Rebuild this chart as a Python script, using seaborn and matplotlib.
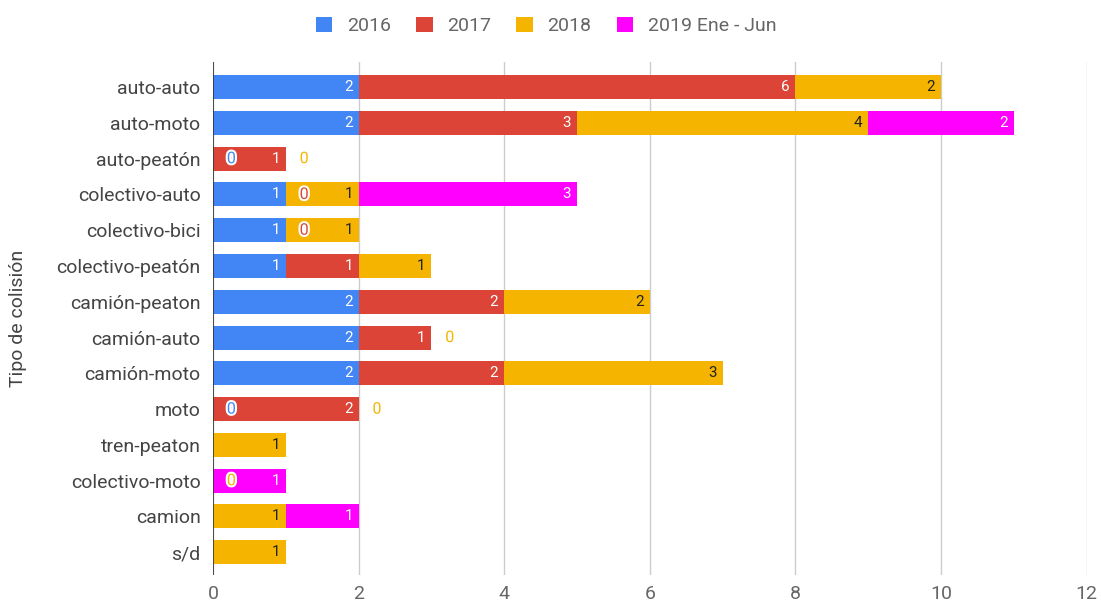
import numpy as np
import pandas as pd
import matplotlib
matplotlib.use("Agg")
import matplotlib.pyplot as plt
import matplotlib.patheffects as pe
from matplotlib.patches import Patch
import seaborn as sns

categorias = ["auto-auto", "auto-moto", "auto-peatón", "colectivo-auto", "colectivo-bici",
              "colectivo-peatón", "camión-peaton", "camión-auto", "camión-moto", "moto",
              "tren-peaton", "colectivo-moto", "camion", "s/d"]
nan = np.nan
y2016 = [2, 2, 0, 1, 1, 1, 2, 2, 2, 0, nan, nan, nan, nan]
y2017 = [6, 3, 1, 0, 0, 1, 2, 1, 2, 2, nan, nan, nan, nan]
y2018 = [2, 4, 0, 1, 1, 1, 2, 0, 3, 0, 1, 0, 1, 1]
y2019 = [nan, 2, nan, 3, nan, nan, nan, nan, nan, nan, nan, 1, 1, nan]

series = ["2016", "2017", "2018", "2019 Ene - Jun"]
colores = ["#4285F4", "#DB4437", "#F4B400", "#FF00FF"]
txt_col = ["white", "white", "#222222", "white"]

df = pd.DataFrame({"tipo": categorias, "2016": y2016, "2017": y2017,
                   "2018": y2018, "2019 Ene - Jun": y2019})
vals = df[series].fillna(0)
cum = vals.cumsum(axis=1)

plt.rcParams["font.family"] = ["Roboto", "DejaVu Sans"]
fig = plt.figure(figsize=(11.01, 6.08), dpi=100)
ax = fig.add_axes([0.1935, 0.054, 0.7935, 0.844])

# stacked bars: draw cumulative totals from the top layer down
for i in range(len(series) - 1, -1, -1):
    d = pd.DataFrame({"tipo": categorias, "v": cum[series[i]]})
    sns.barplot(data=d, x="v", y="tipo", color=colores[i], width=0.67,
                saturation=1, ax=ax, zorder=3, linewidth=0)

# labels
for i, s in enumerate(series):
    for j in range(len(categorias)):
        v = df[s].iloc[j]
        if np.isnan(v):
            continue
        end = cum[s].iloc[j]
        if v == 0:
            ax.text(end + 0.19, j, "0", color=colores[i], fontsize=11.5,
                    ha="left", va="center", zorder=5,
                    path_effects=[pe.withStroke(linewidth=3, foreground="white")])
        else:
            ax.text(end - 0.08, j, f"{int(v)}", color=txt_col[i], fontsize=11,
                    ha="right", va="center", zorder=5)

ax.set_xlim(0, 12)
ax.set_ylim(13.64, -0.7)
ax.set_xticks(range(0, 13, 2))
ax.grid(axis="x", color="#cccccc", linewidth=1, zorder=0)
ax.grid(axis="y", visible=False)
ax.axvline(0, color="#333333", linewidth=1.2, zorder=4)
for sp in ax.spines.values():
    sp.set_visible(False)
ax.tick_params(length=0)
ax.tick_params(axis="x", labelsize=14, colors="#666666", pad=7)
ax.tick_params(axis="y", labelsize=14, colors="#444444", pad=9)
ax.set_xlabel("")
ax.set_ylabel("Tipo de colisión", fontsize=14, color="#444444")
ax.yaxis.set_label_coords(-0.213, 0.5)

handles = [Patch(facecolor=c, edgecolor="none") for c in colores]
fig.legend(handles, series, loc="center", bbox_to_anchor=(0.496, 0.957), ncol=4,
           frameon=False, fontsize=14, labelcolor="#666666", handlelength=0.85,
           handleheight=0.85, columnspacing=1.3, handletextpad=0.75)

fig.savefig("out.png", dpi=100)
